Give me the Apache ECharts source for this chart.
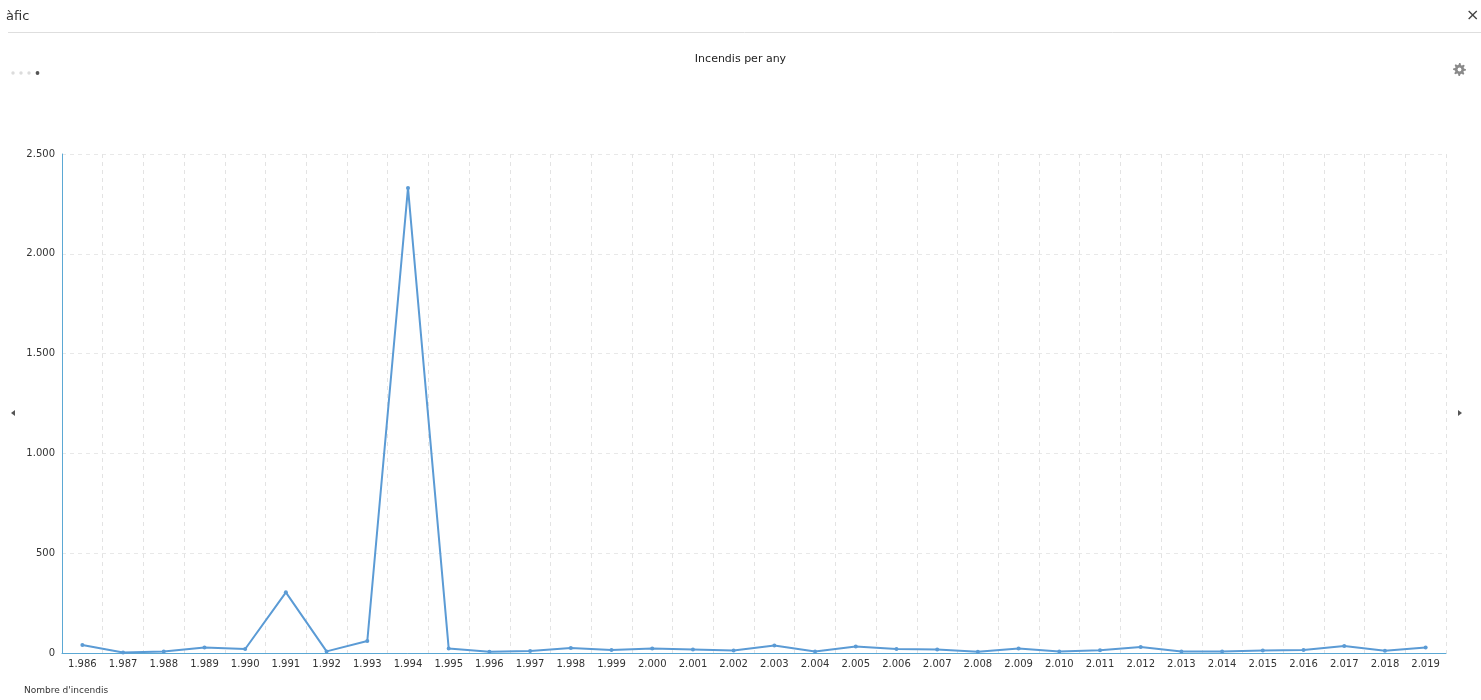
<!DOCTYPE html>
<html>
<head>
<meta charset="utf-8">
<script src="https://cdn.jsdelivr.net/npm/echarts@6/dist/echarts.min.js"></script>
<style>
  html, body { margin: 0; padding: 0; background: #fff; }
  #chart { width: 1481px; height: 700px; }
</style>
</head>
<body>
<div id="chart"></div>
<script>
// Fires per year
const years = ['1.986','1.987','1.988','1.989','1.990','1.991','1.992','1.993','1.994','1.995',
  '1.996','1.997','1.998','1.999','2.000','2.001','2.002','2.003','2.004','2.005',
  '2.006','2.007','2.008','2.009','2.010','2.011','2.012','2.013','2.014','2.015',
  '2.016','2.017','2.018','2.019'];
const fires = [40, 3, 7, 28, 20, 304, 8, 60, 2330, 22,
  6, 10, 25, 15, 23, 18, 13, 38, 8, 33,
  20, 17, 6, 22, 7, 14, 30, 8, 8, 12,
  15, 35, 11, 27];
const yTicks = [0, 500, 1000, 1500, 2000, 2500];

const FONT = '"DejaVu Sans", Verdana, sans-serif';
const fmt = v => String(v).replace(/\B(?=(\d{3})+(?!\d))/g, '.');

// Settings (gear) icon outline centred at (cx, cy)
function gearPoints(cx, cy, rOut, rIn, teeth) {
  const pts = [];
  const n = teeth * 4;
  for (let i = 0; i < n; i++) {
    const a = (i / n) * Math.PI * 2 - Math.PI / n / 2;
    const r = (i % 4 < 2) ? rOut : rIn;
    pts.push([cx + r * Math.cos(a), cy + r * Math.sin(a)]);
  }
  return pts;
}

const chart = echarts.init(document.getElementById('chart'));
chart.setOption({
  animation: false,
  title: {
    text: 'Incendis per any',
    left: 'center', top: 49,
    textStyle: { fontFamily: FONT, fontSize: 11, fontWeight: 'normal', color: '#222' }
  },
  grid: { left: 62, right: 35, top: 154, bottom: 47 },
  xAxis: {
    type: 'category',
    data: years,
    boundaryGap: true,
    axisLine: { lineStyle: { color: '#5ba8d4', width: 1 } },
    axisTick: { show: false },
    axisLabel: { fontFamily: FONT, fontSize: 10, color: '#333', margin: 6, interval: 0 },
    splitLine: { show: true, lineStyle: { type: [4, 4], color: '#e3e3e3' } }
  },
  yAxis: {
    type: 'value',
    min: yTicks[0], max: yTicks[yTicks.length - 1], interval: 500,
    axisLine: { show: true, lineStyle: { color: '#5ba8d4', width: 1 } },
    axisTick: { show: false },
    axisLabel: { fontFamily: FONT, fontSize: 10, color: '#333', margin: 7, formatter: fmt },
    splitLine: { show: true, lineStyle: { type: [4, 4], color: '#e8e8e8' } }
  },
  series: [{
    type: 'line',
    data: fires,
    symbol: 'circle',
    symbolSize: 4,
    lineStyle: { color: '#5b9bd5', width: 2 },
    itemStyle: { color: '#5b9bd5' }
  }],
  graphic: [
    { type: 'text', x: 6, y: 10, style: { text: 'àfic', font: '13px ' + FONT, fill: '#333' } },
    { type: 'text', x: 1466, y: 8, style: { text: '×', font: '16px ' + FONT, fill: '#444' } },
    { type: 'line', shape: { x1: 8, y1: 32.5, x2: 1481, y2: 32.5 }, style: { stroke: '#dedede', lineWidth: 1 } },
    { type: 'circle', shape: { cx: 13, cy: 73, r: 1.7 }, style: { fill: '#dcdcdc' } },
    { type: 'circle', shape: { cx: 21, cy: 73, r: 1.7 }, style: { fill: '#dcdcdc' } },
    { type: 'circle', shape: { cx: 29, cy: 73, r: 1.7 }, style: { fill: '#dcdcdc' } },
    { type: 'circle', shape: { cx: 37.5, cy: 73, r: 1.9 }, style: { fill: '#555' } },
    { type: 'polygon', shape: { points: gearPoints(1459.5, 69.5, 6.5, 4.6, 8) }, style: { fill: '#8a8a8a' } },
    { type: 'circle', shape: { cx: 1459.5, cy: 69.5, r: 1.9 }, style: { fill: '#fff' } },
    { type: 'polygon', shape: { points: [[11, 413], [15, 410], [15, 416]] }, style: { fill: '#555' } },
    { type: 'polygon', shape: { points: [[1462, 413], [1458, 410], [1458, 416]] }, style: { fill: '#555' } },
    { type: 'text', x: 24, y: 686, style: { text: "Nombre d'incendis", font: '9px ' + FONT, fill: '#333' } }
  ]
});
</script>
</body>
</html>
